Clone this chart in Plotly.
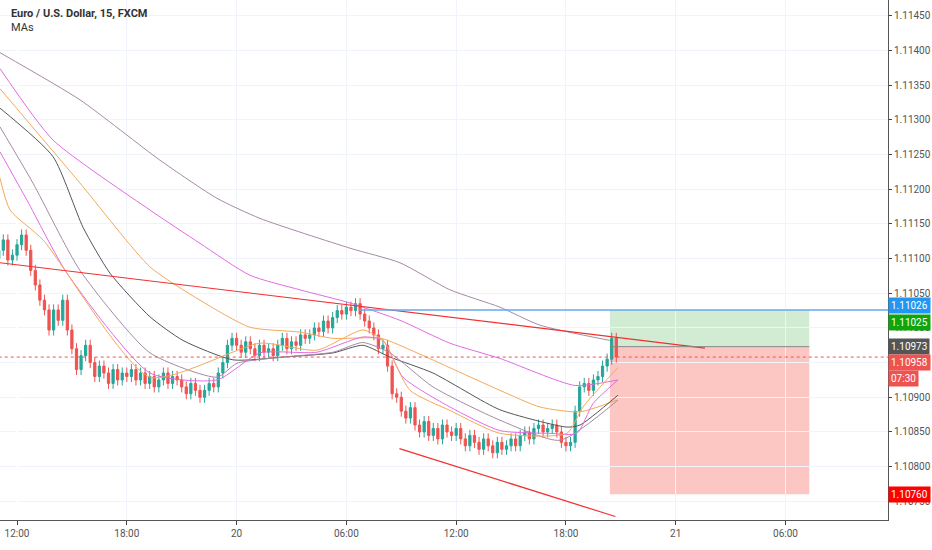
import plotly.graph_objects as go

# time axis: hours since 19th 12:00 (15-minute candles)
start_hour = -1.0
closes = [1112,1127,1098,1105,1120,1134,1112,1083,1062,1040,1026,997,
          1026,1011,1040,997,970,940,
          960,975,950,930,945,935,920,940,925,935,
          930,940,925,935,920,930,915,925,935,920,930,925,915,905,920,910,
          900,910,920,915,935,950,975,985,
          975,965,980,970,960,975,965,970,960,975,985,970,980,975,990,985,
          990,1000,995,1010,1000,1015,1025,1020,
          1030,1025,1035,1020,1010,1000,
          990,970,975,945,905,900,
          880,870,885,860,850,865,845,855,840,860,850,845,
          855,840,830,845,835,825,840,830,820,835,825,830,
          840,830,845,850,840,855,860,850,
          855,860,850,835,830,835,
          880,915,920,910,925,930,945,955,985,958]
first_open = 1100
wick = 8

ma_series = {
 "ma200": ([-0.93,3.44,7.81,10.93,13.28,18.2,20.93,23.66,26.39,28.58,32.4],
           [1397,1329,1242,1187,1158,1115,1094,1055,1030,1004,982]),
 "ma100": ([-0.93,1.97,7.27,10.0,12.73,15.46,18.2,20.93,23.66,26.39,30.5,32.84],
           [1374,1271,1170,1122,1076,1055,1036,1011,978,956,917,925]),
 "ma50":  ([-0.93,3.44,7.27,10.0,12.73,15.46,17.27,19.9,21.86,26.39,28.58,30.77,32.79],
           [1345,1209,1088,1040,1001,994,985,985,964,910,886,879,896]),
 "ma30":  ([-0.93,1.97,3.61,5.08,7.27,9.07,11.8,14.54,17.27,18.9,20.38,22.73,26.39,30.05,30.77,32.84],
           [1317,1247,1145,1079,1016,982,954,958,964,975,958,935,882,857,860,903]),
 "ma20":  ([-0.93,0.87,3.44,7.27,10.93,12.02,14.54,17.27,18.9,20.38,22.73,26.39,29.67,32.84],
           [1290,1209,1083,964,929,949,958,965,979,964,915,867,838,896]),
 "ma10":  ([-0.93,0.55,2.73,7.27,10.93,13.28,16.39,18.9,20.0,21.09,23.66,26.39,29.13,30.6,31.48,32.84],
           [1254,1184,1079,935,925,964,965,987,982,929,886,852,848,848,891,925]),
 "ma5":   ([-0.93,-0.38,1.42,7.27,13.28,16.39,18.9,20.0,21.48,23.66,26.39,30.05,30.93,32.84],
           [1216,1170,1127,929,978,968,997,982,910,881,848,848,886,943]),
}
ma_colors = {"ma200":"#a58aa5","ma100":"#e36be3","ma50":"#f5a95a","ma30":"#555555",
             "ma20":"#a58aa5","ma10":"#e36be3","ma5":"#f5a95a"}

trend_upper = ([-0.93, 37.6], [1.11094, 1.10971])
trend_lower = ([20.9, 32.7], [1.10826, 1.10728])
entry, target, stop, last = 1.10973, 1.11026, 1.10760, 1.10958
box_x = [32.4, 43.3]
blue_start = 18.7

x_ticks = [0, 6, 12, 18, 24, 30, 36, 42]
x_labels = ["12:00", "18:00", "20", "06:00", "12:00", "18:00", "21", "06:00"]

def p(v): return 1.1 + v / 1e5

xs = [start_hour + 0.25*i for i in range(len(closes))]
opens = [first_open] + closes[:-1]
op = [p(v) for v in opens]; cl = [p(v) for v in closes]
hi = [max(o, c) + wick/1e5 for o, c in zip(op, cl)]
lo = [min(o, c) - wick/1e5 for o, c in zip(op, cl)]

fig = go.Figure()
fig.add_shape(type="rect", x0=box_x[0], x1=box_x[1], y0=entry, y1=target,
              fillcolor="rgba(76,175,80,0.25)", line_width=0, layer="below")
fig.add_shape(type="rect", x0=box_x[0], x1=box_x[1], y0=stop, y1=entry,
              fillcolor="rgba(244,67,54,0.3)", line_width=0, layer="below")
fig.add_shape(type="line", x0=box_x[0], x1=box_x[1], y0=entry, y1=entry,
              line=dict(color="#888", width=1))
fig.add_shape(type="line", x0=blue_start, x1=47.6, y0=target, y1=target,
              line=dict(color="#64a8f0", width=1.5))
fig.add_shape(type="line", x0=-1, x1=47.6, y0=last, y1=last,
              line=dict(color="#ef5350", width=1, dash="dot"))

for k, (hx, hv) in ma_series.items():
    fig.add_trace(go.Scatter(x=hx, y=[p(v) for v in hv], mode="lines",
                             line=dict(color=ma_colors[k], width=1, shape="spline", smoothing=0.6),
                             hoverinfo="skip"))
fig.add_trace(go.Candlestick(x=xs, open=op, high=hi, low=lo, close=cl,
    increasing=dict(line=dict(color="#26a69a", width=1), fillcolor="#26a69a"),
    decreasing=dict(line=dict(color="#ef5350", width=1), fillcolor="#ef5350"),
    whiskerwidth=0))
fig.add_trace(go.Scatter(x=trend_upper[0], y=trend_upper[1], mode="lines",
                         line=dict(color="#f23030", width=1.2)))
fig.add_trace(go.Scatter(x=trend_lower[0], y=trend_lower[1], mode="lines",
                         line=dict(color="#f23030", width=1.2)))

labels = [(target, "1.11026", "#2196f3", -4), (target, "1.11025", "#0ea50e", 13),
          (entry, "1.10973", "#555555", 0), (last, "1.10958", "#ef5350", 5),
          (last, "07:30", "#ef5350", 21), (stop, "1.10760", "#ff0000", 0)]
for y, t, c, dy in labels:
    fig.add_annotation(x=1, xref="paper", y=y, yref="y", text=t, showarrow=False,
                       xanchor="left", xshift=0, yshift=-dy, bgcolor=c,
                       font=dict(color="white", size=10, family="Roboto"),
                       borderpad=2)

fig.add_annotation(x=0.01, y=0.99, xref="paper", yref="paper", showarrow=False,
                   xanchor="left", yanchor="top", align="left",
                   text="<b>Euro / U.S. Dollar, 15, FXCM</b><br>MAs",
                   font=dict(size=11, color="#333", family="Roboto"))

fig.update_layout(width=932, height=550, margin=dict(l=0, r=44, t=0, b=30),
    paper_bgcolor="white", plot_bgcolor="white", showlegend=False,
    xaxis=dict(range=[-0.93, 47.6], tickvals=x_ticks, ticktext=x_labels,
               showgrid=True, gridcolor="#f0f3fa", rangeslider=dict(visible=False),
               showline=True, linecolor="#555", ticks="outside", ticklen=4,
               tickfont=dict(size=10, color="#555", family="Roboto")),
    yaxis=dict(range=[1.10723, 1.11473], side="right", dtick=0.0005, tickformat=".5f",
               showgrid=True, gridcolor="#f0f3fa", showline=True, linecolor="#555",
               ticks="outside", ticklen=3, zeroline=False, automargin=False,
               tickfont=dict(size=10, color="#555", family="Roboto")))
fig.write_html("out.html", config={"displayModeBar": False},
               post_script="document.body.style.margin='0';")
